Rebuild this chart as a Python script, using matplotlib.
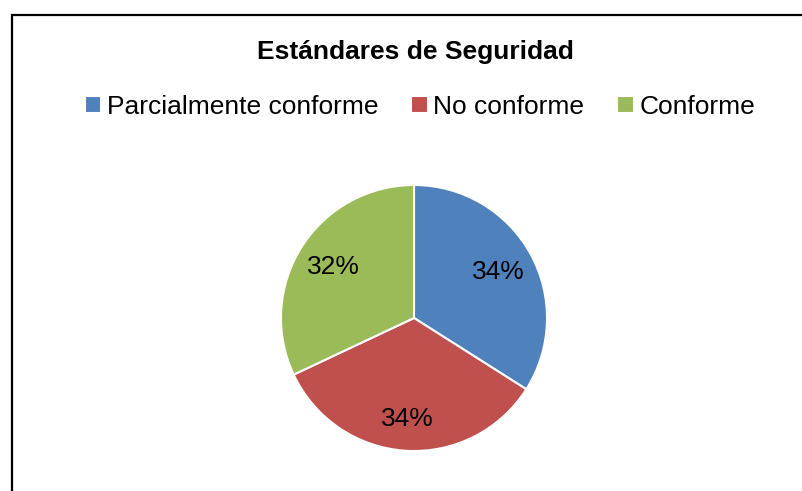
import matplotlib.pyplot as plt
import numpy as np
from matplotlib.patches import Rectangle

plt.rcParams['font.family'] = ['Liberation Sans', 'DejaVu Sans']

title = 'Estándares de Seguridad'
categories = ['Parcialmente conforme', 'No conforme', 'Conforme']
values = [34, 34, 32]
colors = ['#4F81BD', '#C0504D', '#9BBB59']

W, H = 802, 491
fig = plt.figure(figsize=(W / 100, H / 100), dpi=100)

# chart frame (cropped on the right and bottom in the original)
fig.patches.append(Rectangle((12 / W, -0.2), 1.2, 1.2 - 15 / H,
                             transform=fig.transFigure, fill=False,
                             edgecolor='black', linewidth=1.6))

# pie area: centre (414, 318), radius 133 px
cx, cy, r = 414, 318, 133
ax = fig.add_axes([(cx - r) / W, (H - cy - r) / H, 2 * r / W, 2 * r / H])
wedges, texts = ax.pie(values, colors=colors, startangle=90, counterclock=False,
                       wedgeprops=dict(edgecolor='white', linewidth=1.5))
total = sum(values)
for w, v in zip(wedges, values):
    ang = np.deg2rad((w.theta1 + w.theta2) / 2)
    d = 0.72 if abs(np.sin(ang)) < 0.9 else 0.76
    ax.text(d * np.cos(ang), d * np.sin(ang), '{:.0f}%'.format(100 * v / total),
            ha='center', va='center', fontsize=19, color='black')
ax.set_xlim(-1, 1)
ax.set_ylim(-1, 1)
ax.set_aspect('equal')
ax.axis('off')

fig.text(415 / W, 1 - 52 / H, title, ha='center', va='center',
         fontsize=19, fontweight='bold')

fig.legend(wedges, categories, loc='center', bbox_to_anchor=(420 / W, 1 - 107 / H),
           ncol=3, frameon=False, fontsize=19, handlelength=0.62, handleheight=0.62,
           handletextpad=0.22, columnspacing=1.25, borderpad=0)

fig.savefig('out.png', dpi=100)
